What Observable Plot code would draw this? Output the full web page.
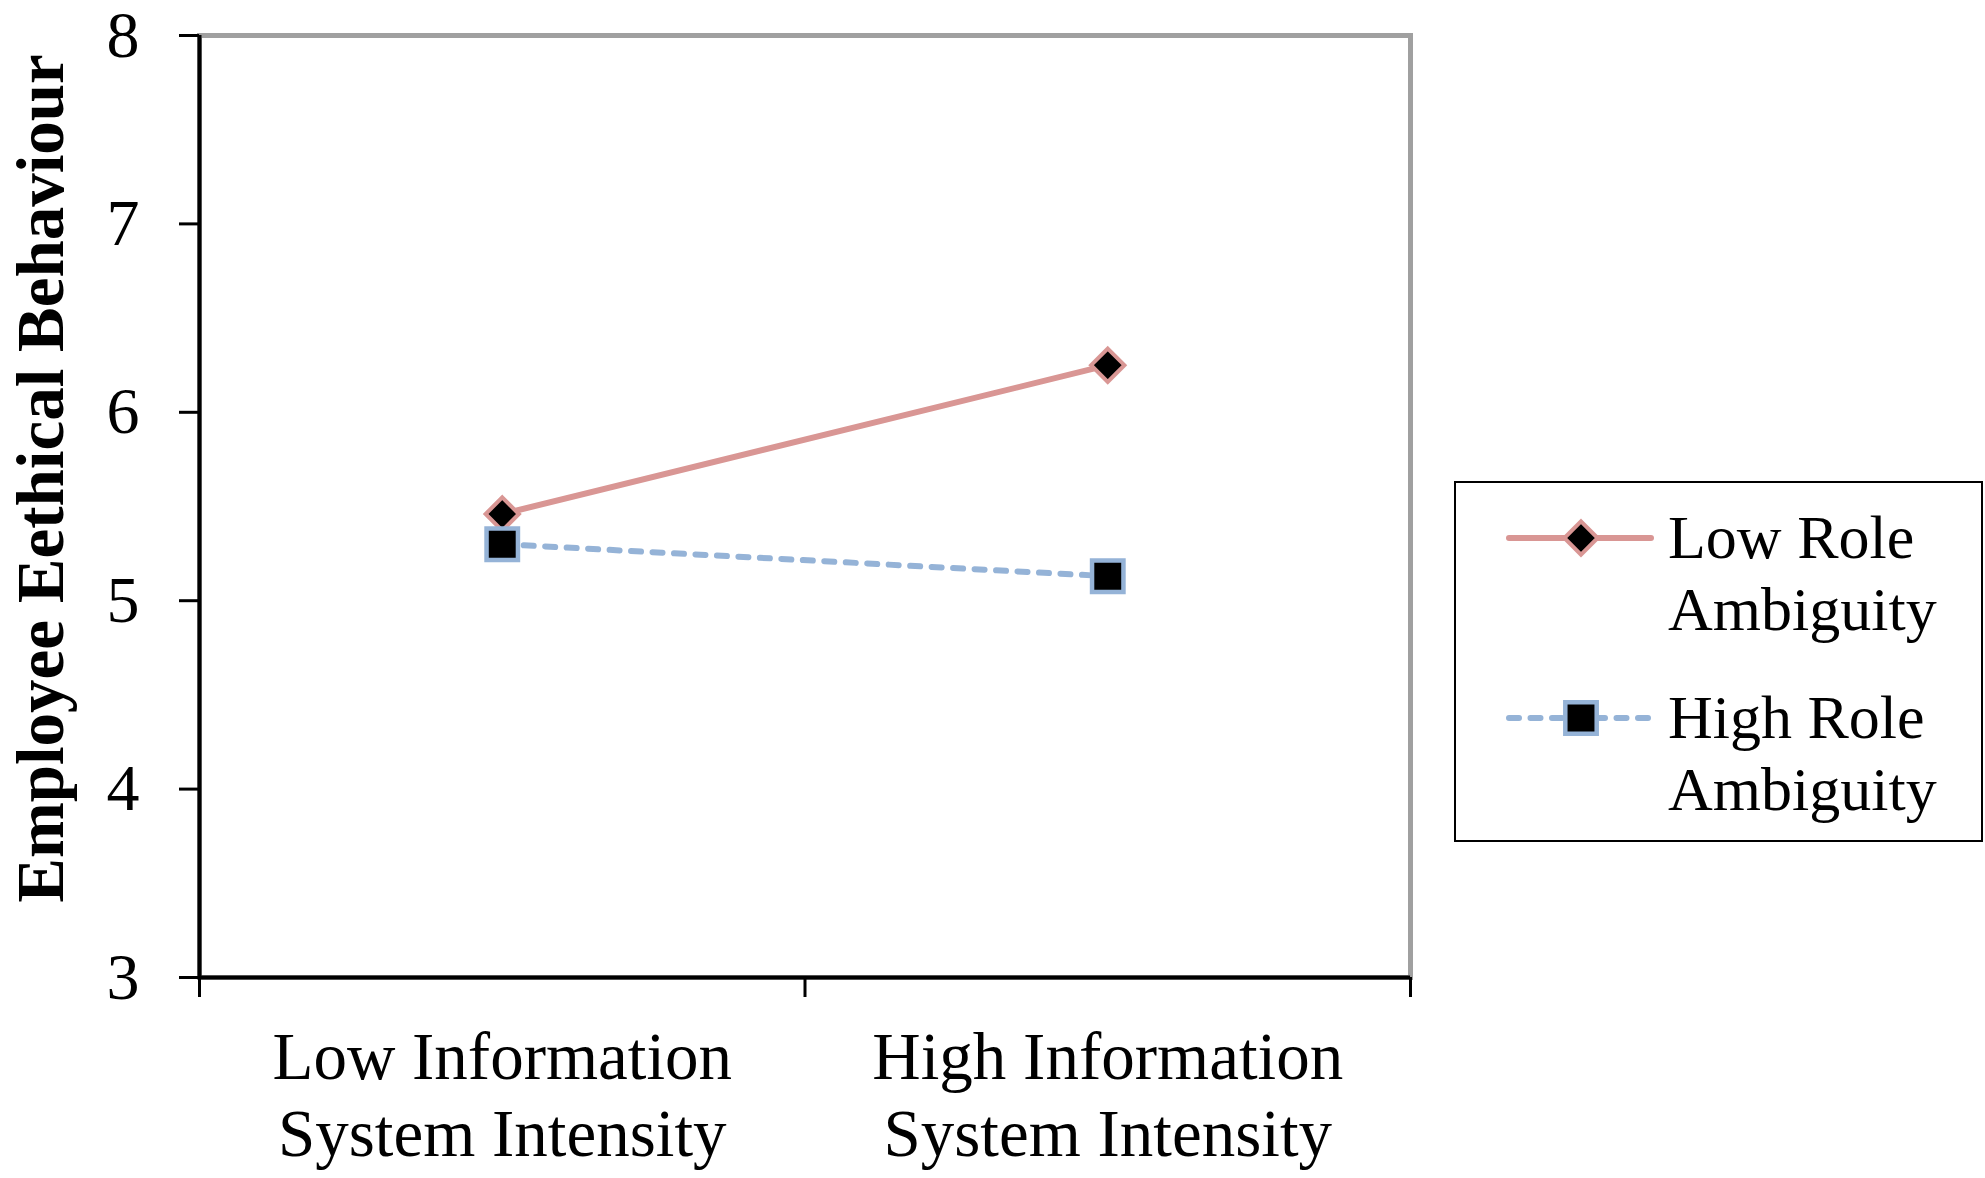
<!DOCTYPE html>
<html>
<head>
<meta charset="utf-8">
<script src="https://cdn.jsdelivr.net/npm/d3@7"></script>
<script src="https://cdn.jsdelivr.net/npm/@observablehq/plot@0.6"></script>
<style>
html, body { margin: 0; padding: 0; background: #fff; }
#chart { width: 1985px; height: 1178px; }
</style>
</head>
<body>
<div id="chart"></div>
<script>
// ---- data ----
const categories = ["Low Information\nSystem Intensity", "High Information\nSystem Intensity"];
const seriesNames = ["Low Role Ambiguity", "High Role Ambiguity"];
const lowRoleValues = [5.46, 6.25];
const highRoleValues = [5.30, 5.13];
const yTicks = [3, 4, 5, 6, 7, 8];
const yDomain = [3, 8];
const yLabel = "Employee Eethical Behaviour";
const legendLabels = ["Low Role\nAmbiguity", "High Role\nAmbiguity"];

// ---- build table ----
const low = categories.map((c, i) => ({series: seriesNames[0], cat: c, pos: i + 0.5, value: lowRoleValues[i]}));
const high = categories.map((c, i) => ({series: seriesNames[1], cat: c, pos: i + 0.5, value: highRoleValues[i]}));
const catBoundaries = d3.range(categories.length + 1);
const catCenters = categories.map((c, i) => i + 0.5);

const pink = "#D99694";
const blue = "#95B3D7";
const serif = "'Liberation Serif', 'Times New Roman', Times, serif";
const diamondR = 15;
const squareR = 20;

const plot = Plot.plot({
  width: 1985,
  height: 1178,
  marginLeft: 199,
  marginRight: 575,
  marginTop: 35,
  marginBottom: 201,
  style: {fontFamily: serif, fontSize: "66px", background: "#fff", color: "#000", overflow: "visible"},
  x: {domain: [0, categories.length]},
  y: {domain: yDomain},
  marks: [
    Plot.frame({stroke: "#a0a0a0", strokeWidth: 5}),
    Plot.ruleX([0], {stroke: "#000", strokeWidth: 4}),
    Plot.ruleY([yDomain[0]], {stroke: "#000", strokeWidth: 4}),
    Plot.axisY({ticks: yTicks, tickSize: 20, tickPadding: 40, tickFormat: d => String(d), fontSize: 66, strokeWidth: 3, label: null}),
    Plot.axisX({ticks: catBoundaries, tickSize: 20, tickFormat: () => "", strokeWidth: 3, label: null}),
    Plot.axisX({ticks: catCenters, tickSize: 0, tickPadding: 46, tickFormat: d => categories[Math.floor(d)], lineHeight: 1.16, fontSize: 67, label: null}),
    Plot.line(low, {x: "pos", y: "value", stroke: pink, strokeWidth: 6}),
    Plot.line(high, {x: "pos", y: "value", stroke: blue, strokeWidth: 6, strokeDasharray: "10,11.5", strokeLinecap: "round"}),
    Plot.dot(low, {x: "pos", y: "value", symbol: "diamond2", r: diamondR, fill: "#000", stroke: pink, strokeWidth: 4}),
    Plot.dot(high, {x: "pos", y: "value", symbol: "square2", r: squareR, fill: "#000", stroke: blue, strokeWidth: 4.5}),
    Plot.text([yLabel], {frameAnchor: "left", text: d => d, rotate: -90, dx: -137, dy: -28, textAnchor: "middle", lineAnchor: "bottom", fontWeight: "bold", fontSize: 67})
  ]
});

document.getElementById("chart").appendChild(plot);

// ---- legend (drawn into the same SVG) ----
const svg = d3.select(plot);
const lg = svg.append("g").attr("class", "legend").attr("text-anchor", "start");
lg.append("rect")
  .attr("x", 1455).attr("y", 482).attr("width", 527).attr("height", 359)
  .attr("fill", "#fff").attr("stroke", "#000").attr("stroke-width", 2);

const legendItems = [
  {label: legendLabels[0], color: pink, dash: null, symbol: d3.symbolDiamond2, size: Math.PI * diamondR * diamondR, sw: 4, y: 538},
  {label: legendLabels[1], color: blue, dash: "10,11.5", symbol: d3.symbolSquare2, size: Math.PI * squareR * squareR, sw: 4.5, y: 718}
];
legendItems.forEach(it => {
  lg.append("line")
    .attr("x1", 1509).attr("x2", 1651).attr("y1", it.y).attr("y2", it.y)
    .attr("stroke", it.color).attr("stroke-width", 6)
    .attr("stroke-linecap", "round")
    .attr("stroke-dasharray", it.dash);
  lg.append("path")
    .attr("transform", `translate(1581,${it.y})`)
    .attr("d", d3.symbol(it.symbol, it.size)())
    .attr("fill", "#000").attr("stroke", it.color).attr("stroke-width", it.sw);
  const t = lg.append("text")
    .attr("x", 1668).attr("y", it.y + 20)
    .attr("text-anchor", "start")
    .attr("font-family", serif).attr("font-size", 62).attr("fill", "#000");
  it.label.split("\n").forEach((line, i) => {
    t.append("tspan").attr("x", 1668).attr("dy", i === 0 ? 0 : 72).text(line);
  });
});
</script>
</body>
</html>
